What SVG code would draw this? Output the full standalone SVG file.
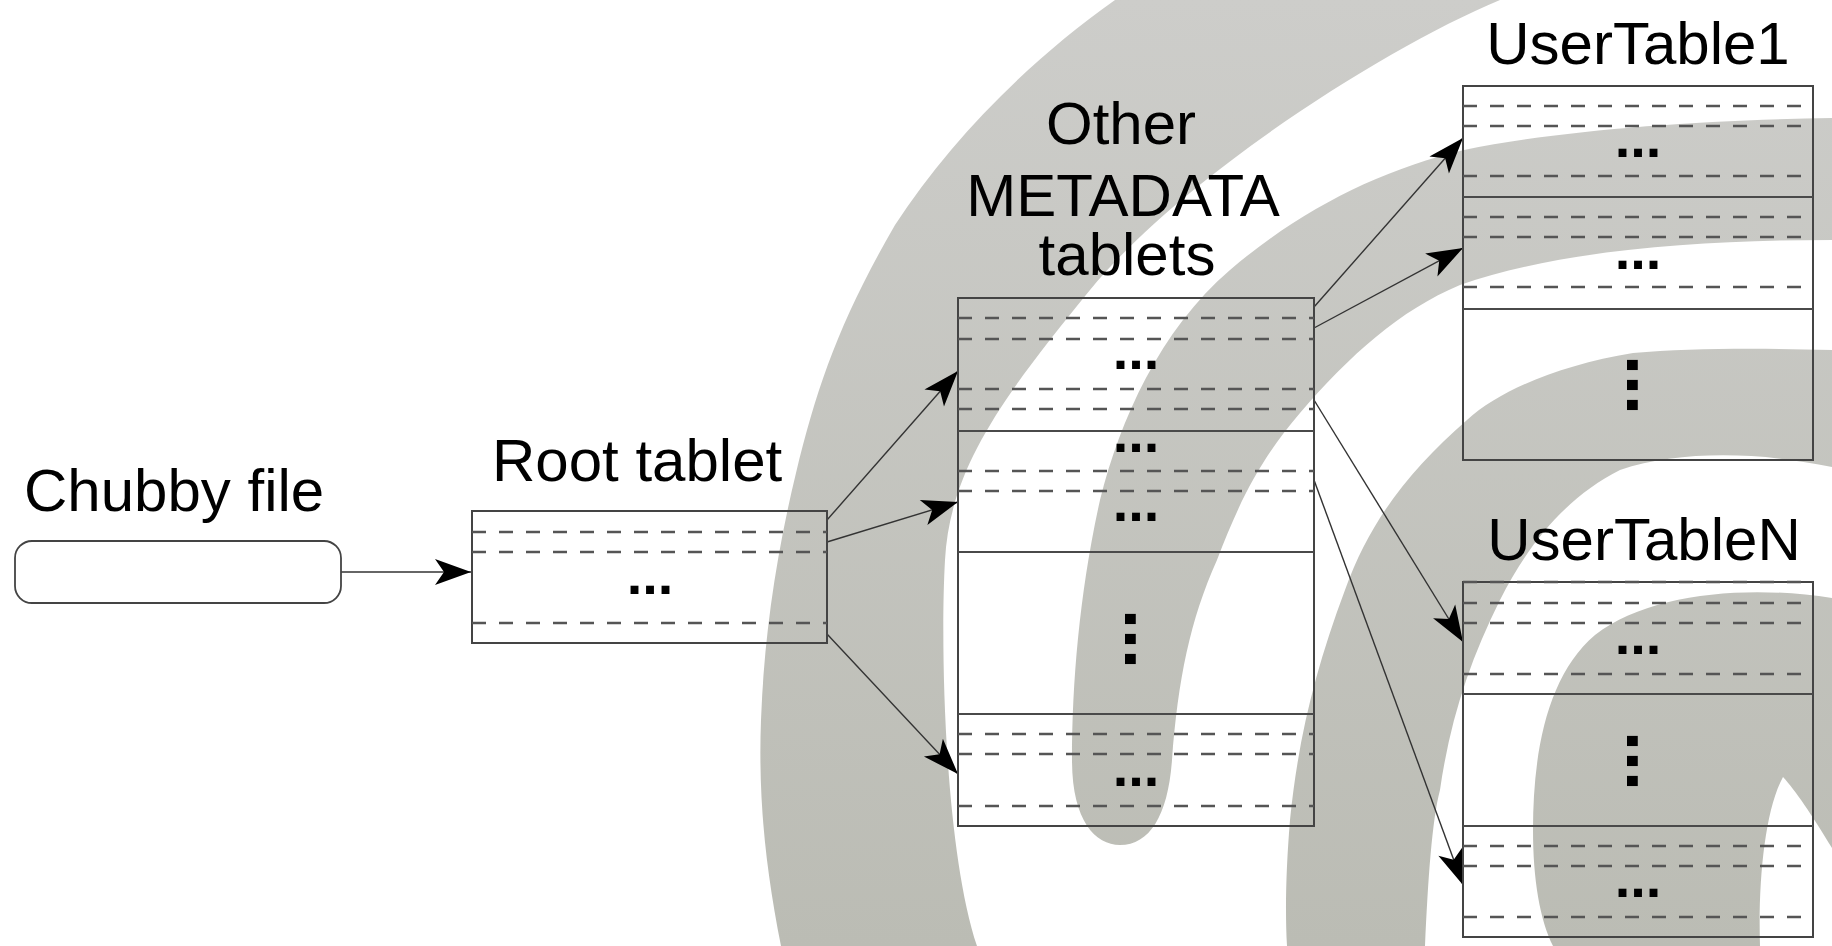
<svg xmlns="http://www.w3.org/2000/svg" width="1832" height="946" viewBox="0 0 1832 946">
<defs>
<linearGradient id="swirl" x1="0" y1="0" x2="0" y2="946" gradientUnits="userSpaceOnUse">
<stop offset="0" stop-color="#cdcdca"/>
<stop offset="1" stop-color="#bbbcb4"/>
</linearGradient>
<marker id="ah" viewBox="-38 -15 40 30" markerWidth="40" markerHeight="30" refX="0" refY="0" markerUnits="userSpaceOnUse" orient="auto">
<path d="M0,0 L-36,-13 L-27,0 L-36,13 Z" fill="#000"/>
</marker>
<style>
.box{fill:none;stroke:#444;stroke-width:2}
.sep{stroke:#4a4a4a;stroke-width:2}
.dash{stroke:#555;stroke-width:2.4;stroke-dasharray:14 13}
.lbl{font-family:"Liberation Sans",Arial,sans-serif;font-size:60px;fill:#000}
.dots{font-family:"Liberation Sans",Arial,sans-serif;font-size:56px;font-weight:bold;fill:#000;text-anchor:middle}
.vdots{font-family:"Liberation Sans",Arial,sans-serif;font-size:72px;font-weight:bold;fill:#000;text-anchor:middle}
.conn{stroke:#333;stroke-width:1.4;fill:none;marker-end:url(#ah)}
.sw{fill:url(#swirl)}
</style>
</defs>
<rect x="0" y="0" width="1832" height="946" fill="#fff"/>
<g id="watermark">
<path class="sw" d="M781,946 C766,870 758,800 761,720 C764,640 775,560 796,473 C817,386 840,320 895,225 C950,140 1030,60 1115,0 L1500,0 C1380,50 1180,180 1090,290 C1000,400 950,470 945,560 C940,650 945,850 977,946 Z"/>
<path class="sw" d="M1832,118 C1700,120 1560,130 1464,150 C1380,170 1300,210 1230,270 C1160,330 1120,420 1100,500 C1080,590 1072,680 1072,760 C1072,820 1095,845 1120,845 C1150,845 1168,815 1172,760 C1178,680 1190,620 1217,560 C1240,500 1260,460 1300,413 C1350,355 1400,310 1460,285 C1560,250 1700,240 1832,240 Z"/>
<path class="sw" d="M1832,350 C1760,348 1690,348 1633,353 C1560,365 1500,390 1467,420 C1410,470 1370,520 1345,590 C1315,670 1298,740 1290,820 C1286,870 1285,910 1287,946 L1425,946 C1428,880 1432,820 1440,790 C1450,720 1470,660 1500,600 C1530,540 1570,495 1620,470 C1680,450 1760,452 1832,467 Z"/>
<path class="sw" d="M1832,598 C1750,585 1650,592 1595,635 C1548,675 1533,750 1533,830 C1533,880 1540,920 1553,946 L1760,946 C1758,880 1765,810 1783,777 C1795,790 1812,815 1832,848 Z"/>
</g>
<g id="connectors">
<line class="conn" x1="341" y1="572" x2="471" y2="572"/>
<line class="conn" x1="827" y1="520" x2="958" y2="371"/>
<line class="conn" x1="827" y1="542" x2="958" y2="502"/>
<line class="conn" x1="827" y1="634" x2="958" y2="774"/>
<line class="conn" x1="1314" y1="307" x2="1463" y2="138"/>
<line class="conn" x1="1314" y1="328" x2="1463" y2="248"/>
<line class="conn" x1="1314" y1="400" x2="1463" y2="642"/>
<line class="conn" x1="1314" y1="480" x2="1463" y2="885"/>
</g>
<g id="chubby">
<text class="lbl" x="24" y="511">Chubby file</text>
<rect x="15" y="541" width="326" height="62" rx="17" ry="17" fill="#fff" stroke="#444" stroke-width="1.8"/>
</g>
<g id="root">
<text class="lbl" x="492" y="481">Root tablet</text>
<rect class="box" x="472" y="511" width="355" height="132"/>
<line class="dash" x1="472" y1="532" x2="827" y2="532"/>
<line class="dash" x1="472" y1="552" x2="827" y2="552"/>
<line class="dash" x1="472" y1="623" x2="827" y2="623"/>
<text class="dots" x="650" y="594">...</text>
</g>
<g id="metadata">
<text class="lbl" x="1121" y="144" text-anchor="middle">Other</text>
<text class="lbl" x="1123" y="216" text-anchor="middle">METADATA</text>
<text class="lbl" x="1127" y="275" text-anchor="middle">tablets</text>
<rect class="box" x="958" y="298" width="356" height="528"/>
<line class="dash" x1="958" y1="318" x2="1314" y2="318"/>
<line class="dash" x1="958" y1="339" x2="1314" y2="339"/>
<line class="dash" x1="958" y1="389" x2="1314" y2="389"/>
<line class="dash" x1="958" y1="409" x2="1314" y2="409"/>
<line class="sep" x1="958" y1="431" x2="1314" y2="431"/>
<line class="dash" x1="958" y1="471" x2="1314" y2="471"/>
<line class="dash" x1="958" y1="491" x2="1314" y2="491"/>
<line class="sep" x1="958" y1="552" x2="1314" y2="552"/>
<line class="sep" x1="958" y1="714" x2="1314" y2="714"/>
<line class="dash" x1="958" y1="734" x2="1314" y2="734"/>
<line class="dash" x1="958" y1="754" x2="1314" y2="754"/>
<line class="dash" x1="958" y1="806" x2="1314" y2="806"/>
<text class="dots" x="1136" y="369">...</text>
<text class="dots" x="1136" y="452">...</text>
<text class="dots" x="1136" y="521">...</text>
<text class="dots" x="1136" y="786">...</text>
<text class="vdots" transform="translate(1129,639) rotate(90)" x="0" y="4.5">...</text>
</g>
<g id="usertable1">
<text class="lbl" x="1638" y="64" text-anchor="middle">UserTable1</text>
<rect class="box" x="1463" y="86" width="350" height="374"/>
<line class="dash" x1="1463" y1="106" x2="1813" y2="106"/>
<line class="dash" x1="1463" y1="126" x2="1813" y2="126"/>
<line class="dash" x1="1463" y1="176" x2="1813" y2="176"/>
<line class="sep" x1="1463" y1="197" x2="1813" y2="197"/>
<line class="dash" x1="1463" y1="217" x2="1813" y2="217"/>
<line class="dash" x1="1463" y1="237" x2="1813" y2="237"/>
<line class="dash" x1="1463" y1="287" x2="1813" y2="287"/>
<line class="sep" x1="1463" y1="309" x2="1813" y2="309"/>
<text class="dots" x="1638" y="157">...</text>
<text class="dots" x="1638" y="269">...</text>
<text class="vdots" transform="translate(1631,385) rotate(90)" x="0" y="4.5">...</text>
</g>
<g id="usertableN">
<text class="lbl" x="1644" y="560" text-anchor="middle">UserTableN</text>
<rect class="box" x="1463" y="582" width="350" height="355"/>
<line class="dash" x1="1463" y1="582" x2="1813" y2="582"/>
<line class="dash" x1="1463" y1="603" x2="1813" y2="603"/>
<line class="dash" x1="1463" y1="623" x2="1813" y2="623"/>
<line class="dash" x1="1463" y1="674" x2="1813" y2="674"/>
<line class="sep" x1="1463" y1="694" x2="1813" y2="694"/>
<line class="sep" x1="1463" y1="826" x2="1813" y2="826"/>
<line class="dash" x1="1463" y1="846" x2="1813" y2="846"/>
<line class="dash" x1="1463" y1="866" x2="1813" y2="866"/>
<line class="dash" x1="1463" y1="917" x2="1813" y2="917"/>
<text class="dots" x="1638" y="654">...</text>
<text class="dots" x="1638" y="897">...</text>
<text class="vdots" transform="translate(1631,761) rotate(90)" x="0" y="4.5">...</text>
</g>
</svg>
